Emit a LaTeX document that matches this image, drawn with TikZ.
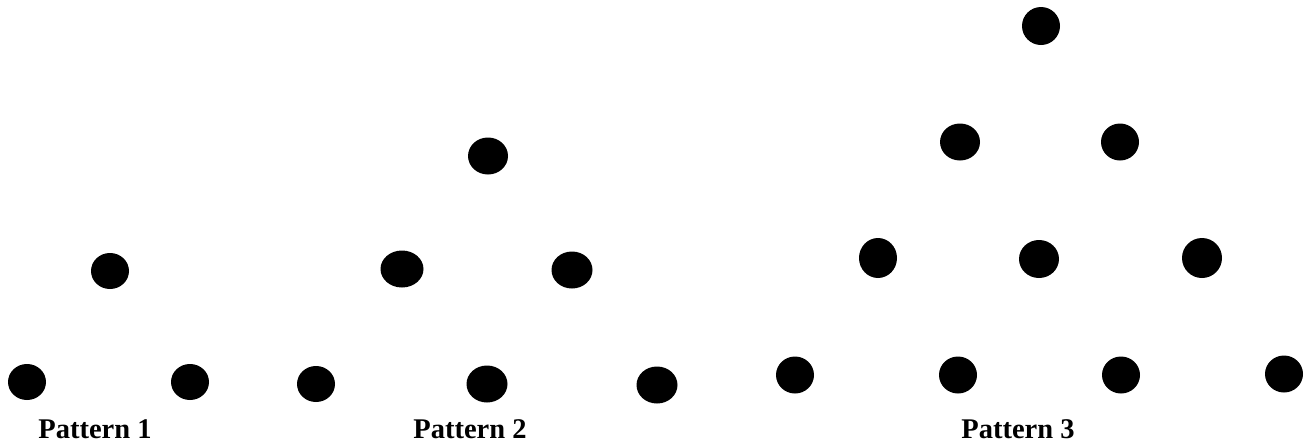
\documentclass[tikz,border=0pt]{standalone}
\usepackage{fontspec}
\setmainfont{Liberation Serif}
\usetikzlibrary{shapes.geometric}
\begin{document}
\begin{tikzpicture}[x=1pt,y=-1pt,
  dot/.style={ellipse,fill=black,draw=none,inner sep=0pt,minimum width=38pt,minimum height=36pt},
  wdot/.style={dot,minimum width=41pt,minimum height=37pt},
  lbl/.style={anchor=base,font=\fontsize{28.5}{32}\selectfont\bfseries,inner sep=0pt,text depth=0pt}]
\useasboundingbox (0,0) rectangle (1307,445);
% Pattern 1
\node[dot] (a1) at (27,382) {};
\node[dot] (a2) at (190,382) {};
\node[dot] (a3) at (110,271) {};
\node[lbl] (l1) at (95,438) {Pattern 1};
% Pattern 2
\node[dot] (b1) at (316,384) {};
\node[wdot] (b2) at (487,384) {};
\node[wdot] (b3) at (657,385) {};
\node[wdot,minimum width=43pt] (b4) at (402,269) {};
\node[wdot] (b5) at (572,270) {};
\node[wdot,minimum width=40pt] (b6) at (488,156) {};
\node[lbl] (l2) at (470,438) {Pattern 2};
% Pattern 3
\node[dot,minimum height=37pt] (c1) at (795,375) {};
\node[dot,minimum height=37pt] (c2) at (958,375) {};
\node[dot,minimum height=37pt] (c3) at (1121,375) {};
\node[dot,minimum height=37pt] (c4) at (1284,374) {};
\node[dot,minimum height=40pt] (c5) at (878,258) {};
\node[wdot,minimum width=40pt,minimum height=38pt] (c6) at (1039,259) {};
\node[wdot,minimum width=40pt,minimum height=40pt] (c7) at (1202,258) {};
\node[wdot,minimum width=40pt] (c8) at (960,142) {};
\node[dot,minimum height=37pt] (c9) at (1120,142) {};
\node[dot,minimum height=38pt] (c10) at (1041,26) {};
\node[lbl] (l3) at (1018,438) {Pattern 3};
\end{tikzpicture}
\end{document}
